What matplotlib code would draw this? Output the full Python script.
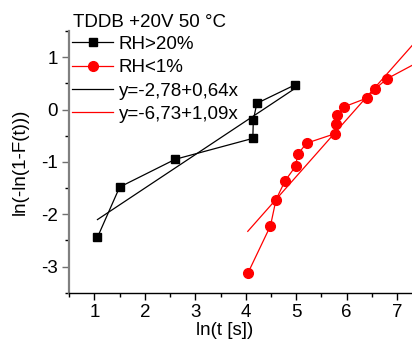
import numpy as np
import matplotlib
matplotlib.use("Agg")
import matplotlib.pyplot as plt
from matplotlib.ticker import MultipleLocator

plt.rcParams["font.family"] = ["Liberation Sans", "DejaVu Sans"]
plt.rcParams["font.size"] = 13.5
plt.rcParams["axes.unicode_minus"] = False

# === Data ===
rh20_x = [1.06, 1.50, 2.60, 4.14, 4.15, 4.22, 4.97]
rh20_y = [-2.44, -1.48, -0.95, -0.55, -0.20, 0.12, 0.47]

rh1_x = [4.04, 4.49, 4.60, 4.78, 4.99, 5.03, 5.21, 5.77, 5.78, 5.80, 5.94, 6.40, 6.57, 6.80, 7.50]
rh1_y = [-3.13, -2.22, -1.72, -1.36, -1.08, -0.85, -0.64, -0.46, -0.28, -0.11, 0.05, 0.22, 0.40, 0.59, 0.95]

# linear fits: y = a + b*x over the given x range
fit20_a, fit20_b, fit20_range = -2.78, 0.64, (1.06, 4.97)
fit1_a, fit1_b, fit1_range = -6.73, 1.09, (4.04, 7.60)

# === Figure ===
fig = plt.figure(figsize=(4.12, 3.42), dpi=100)
ax = fig.add_axes([0.168, 0.144, 0.857, 0.765])

ax.plot(rh20_x, rh20_y, color="black", marker="s", markersize=6, lw=0.9, label="RH>20%")
ax.plot(rh1_x, rh1_y, color="red", marker="o", markersize=7, lw=0.9, label="RH<1%")

x20 = np.array(fit20_range)
ax.plot(x20, fit20_a + fit20_b * x20, color="black", lw=0.9, label="y=-2,78+0,64x")
x1 = np.array(fit1_range)
ax.plot(x1, fit1_a + fit1_b * x1, color="red", lw=0.9, label="y=-6,73+1,09x")

ax.set_xlim(0.5, 7.5)
ax.set_ylim(-3.5, 1.5)
ax.xaxis.set_major_locator(MultipleLocator(1))
ax.xaxis.set_minor_locator(MultipleLocator(0.5))
ax.yaxis.set_major_locator(MultipleLocator(1))
ax.yaxis.set_minor_locator(MultipleLocator(0.5))
ax.tick_params(which="major", direction="out", length=5, width=1, pad=3)
ax.tick_params(which="minor", direction="out", length=3, width=1)
ax.tick_params(axis="y", colors="#707070", labelcolor="black")

ax.spines["top"].set_visible(False)
ax.spines["right"].set_visible(False)
ax.spines["left"].set_color("#808080")
ax.spines["left"].set_linewidth(1.6)
ax.spines["bottom"].set_linewidth(1.0)

ax.set_xlabel("ln(t [s])")
ax.set_ylabel("ln(-ln(1-F(t)))")
ax.xaxis.set_label_coords(0.44, -0.11)
ax.yaxis.set_label_coords(-0.115, 0.5)

ax.legend(loc="upper left", bbox_to_anchor=(0.008, 0.982), frameon=False,
          borderpad=0, borderaxespad=0, handlelength=2.2, handletextpad=0.3,
          labelspacing=0.33)

fig.text(73 / 412, 0.921, "TDDB +20V 50 \u00b0C", ha="left", va="baseline")

fig.savefig("out.png", dpi=100)
